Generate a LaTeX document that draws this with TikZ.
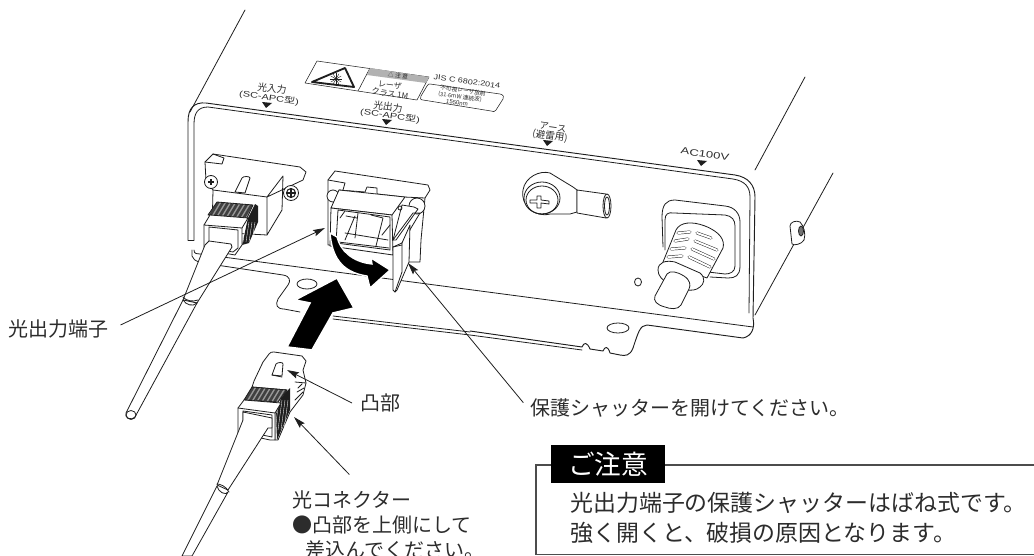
\documentclass[tikz,border=0pt]{standalone}
\usepackage{fontspec}
\usetikzlibrary{arrows.meta}
\newfontfamily\jp{Noto Sans CJK JP}
\newfontfamily\lat{Liberation Sans}
\definecolor{ink}{HTML}{1E1E1E}
\definecolor{txt}{HTML}{2C2C2C}
\tikzset{
 ln/.style={draw=ink,line width=0.6pt,line join=round,line cap=round},
 wf/.style={ln,fill=white},
 leader/.style={draw=ink,line width=0.6pt,-{Stealth[length=9pt,width=5pt,inset=1.5pt]}},
 lab/.style={font=\jp\fontsize{15pt}{15pt}\selectfont,text=txt,inner sep=0pt,anchor=west},
 note/.style={font=\jp\fontsize{17.2pt}{17.2pt}\selectfont,text=txt,inner sep=0pt,anchor=west},
 tiny/.style={font=\jp\fontsize{6.5pt}{6.5pt}\selectfont,text=txt,inner sep=0pt,rotate=-8},
 tri/.style={fill=ink,draw=none},
 bk/.style={fill=black,draw=white,line width=1.2pt,line join=miter},
}
\begin{document}
\begin{tikzpicture}[x=0.75pt,y=-0.75pt]
\useasboundingbox (0,0) rectangle (1034,556);
\clip (0,0) rectangle (1034,556);
% enclosure outlines
\draw[ln] (245,10) -- (190,112);
\draw[ln] (755,170) -- (805,77);
\draw[ln] (755,315) -- (833,173);
% panel
\draw[wf,fill=none,line width=0.7pt] (188,240) -- (188,122) .. controls (188,108) and (194,102) .. (206,103) -- (735,175) .. controls (748,177) and (755,185) .. (755,197) -- (753,318) .. controls (755,328) and (752,336) .. (743,338) -- (647,325) .. controls (640,325) and (638,333) .. (633,348) .. controls (630,356) and (625,356) .. (620,355) -- (610,353) .. controls (608,346) and (605,346) .. (603,351) -- (590,349) .. controls (587,342) and (584,342) .. (582,347) -- (470,331);
\draw[ln,fill=none] (194,240) -- (194,124) .. controls (194,113) and (198,107) .. (208,107) -- (733,179) .. controls (745,181) and (750,187) .. (750,197) -- (749,313);
\draw[ln] (188,240) -- (194,240);
\draw[ln] (194,250) .. controls (194,254) and (197,254) .. (200,254) -- (753,327);
\draw[ln] (192,250) -- (192,256) .. controls (194,262) and (200,263) .. (223,266) -- (283,275) .. controls (290,276) and (291,281) .. (288,285) -- (278,299) .. controls (275,305) and (277,309) .. (284,309) -- (300,312);
\draw[ln] (333,316) -- (470,332);
\draw[ln] (333,319) -- (470,335) -- (582,350);
\draw[ln] (307,284) circle [x radius=10,y radius=5];
\draw[ln] (618,328) circle [x radius=11,y radius=5];
\draw[ln] (638,282) circle [x radius=3.5,y radius=4];
% right screw
\draw[wf] (790,226) .. controls (790,222) and (796,220) .. (800,222) .. controls (804,226) and (806,234) .. (804,240) .. controls (802,244) and (794,246) .. (792,244) -- cycle;
\draw[ln,fill=black!55] (801,231) circle [x radius=2.5,y radius=5];
% laser label
\draw[ln,line width=0.4pt] (317,61) -- (429,77) -- (417,100) -- (305,83) -- cycle;
\draw[ln,line width=0.4pt] (370,68) -- (358,91);
\fill[black!30] (370,68) -- (429,77) -- (426,83) -- (367,75) -- cycle;
\draw[draw=ink,line width=1.4pt,line join=round] (345,68) -- (354,87) -- (312,82) -- cycle;
\foreach \a in {0,30,...,330} \draw[ink,line width=0.3pt] (336,79) -- ++(\a:6);
\fill[ink] (336,79) circle (1.8);
\node[tiny] (warn) at (398,76) {\fontsize{4.4pt}{5pt}\selectfont △ 注 意};
\node[tiny] (cls1) at (390,85.5) {\fontsize{6pt}{7pt}\selectfont レーザ};
\node[tiny] (cls2) at (390,93.5) {\fontsize{6pt}{7pt}\selectfont クラス 1M};
\node[tiny] (jis) at (467,81.5) {\lat\fontsize{5.4pt}{6pt}\selectfont\scalebox{1.25}[1]{JIS C 6802:2014}};
\draw[ln,line width=0.4pt] (430,84) -- (500,94) .. controls (504,95) and (504,97) .. (503,99) -- (496,110) .. controls (495,112) and (493,112) .. (491,111) -- (423,100) .. controls (420,100) and (420,98) .. (421,96) -- (427,86) .. controls (428,84) and (429,84) .. (430,84) -- cycle;
\node[tiny] (w1) at (463,90.5) {\fontsize{4.3pt}{5pt}\selectfont 不可視レーザ放射};
\node[tiny] (w2) at (460,97) {\fontsize{4.3pt}{5pt}\selectfont (31.6mW 連続波)};
\node[tiny] (w3) at (457,103) {\lat\fontsize{4.5pt}{5pt}\selectfont 1550nm};
% top labels
\node[tiny] (in1) at (272,88.5) {\fontsize{7.3pt}{8pt}\selectfont 光入力};
\node[tiny] (in2) at (269,98) {\lat\fontsize{6pt}{7pt}\selectfont\scalebox{1.38}[1]{(SC-APC{\jp 型})}};
\fill[tri] (262,102) -- (272,103) -- (266,108) -- cycle;
\node[tiny] (ou1) at (388,107) {\fontsize{7.3pt}{8pt}\selectfont 光出力};
\node[tiny] (ou2) at (390,116) {\lat\fontsize{6pt}{7pt}\selectfont\scalebox{1.38}[1]{(SC-APC{\jp 型})}};
\fill[tri] (382,119) -- (392,120) -- (386,125) -- cycle;
\node[tiny] (ea1) at (553,127.5) {\fontsize{7pt}{8pt}\selectfont アース};
\node[tiny] (ea2) at (550,136) {\fontsize{7.2pt}{8pt}\selectfont (避雷用)};
\fill[tri] (543,140) -- (553,141) -- (547,146) -- cycle;
\node[tiny] (ac) at (705,154) {\lat\fontsize{7pt}{8pt}\selectfont\scalebox{1.4}[1]{AC100V}};
\fill[tri] (697,160) -- (707,161) -- (701,166) -- cycle;
% left connector plate
\draw[wf] (205,162) -- (213,154) -- (300,167) -- (306,172) -- (303,180) -- (267,197) -- (267,235) -- (282,210) -- (283,176) -- (267,197) -- (213,190) -- (206,181) -- cycle;
\draw[ln] (213,154) -- (224,158) -- (222,164) -- (205,162);
\draw[ln] (213,190) -- (212,232) -- (267,235);
\draw[wf] (235,192) -- (242,178) .. controls (243,176) and (250,176) .. (250,178) -- (245,193) -- cycle;
\draw[wf] (211,182) circle (6.5); \draw[ink,line width=1.2pt] (208,182) -- (214,182) (211,179) -- (211,185);
\draw[wf] (291,193) circle (7.5); \draw[ink,line width=0.8pt] (291,193) circle (4.5); \draw[ink,line width=1.4pt] (287,193) -- (295,193) (291,189) -- (291,197);
% left connector body
\fill[ink] (248,218) -- (255,204) -- (258,206) -- (258,222) -- (249,243) -- (242,245) -- cycle;
\foreach \x in {246,249,252,255} \draw[white,line width=0.25pt] (\x,222) -- (\x-3,242);
\begin{scope}
\clip (217,202) -- (253,205) -- (247,218) -- (208,215) -- cycle;
\fill[black!75] (205,200) rectangle (256,220);
\foreach \x in {205,210,...,262} \draw[black!40,line width=1pt] (\x,220) -- (\x+12,200);
\end{scope}
\draw[ln] (217,202) -- (253,205) -- (247,218) -- (208,215) -- cycle;
\draw[wf] (204,225) -- (210,215) -- (248,218) -- (242,228) -- (242,245) -- (235,255) -- (207,250) -- (204,247) -- cycle;
\draw[wf] (209,227) -- (238,230) -- (238,248) -- (233,252) -- (209,248) -- cycle;
\draw[ln] (204,225) -- (242,228);
% left boot and cable
\draw[wf] (205,245) -- (183,300) -- (197,303) -- (232,247) -- (231,244) -- (209,241) -- cycle;
\draw[wf] (183,300) -- (126,413) .. controls (124,418) and (132,421) .. (135,417) -- (197,303) -- cycle;
\draw[ln] (183,300) .. controls (186,305) and (193,307) .. (197,303);
\draw[ln] (183,297) .. controls (186,301) and (193,302) .. (198,300);
\draw[ln] (131,415) circle [x radius=5,y radius=4.5];
% centre port
\draw[wf] (328,180) -- (335,171) -- (428,185) -- (430,190) -- (425,198) -- (421,240) -- (420,262) -- (409,262) -- (393,250) -- (328,245) -- cycle;
\draw[ln] (328,180) -- (345,183) -- (343,190);
\draw[ln] (339,190) -- (365,192) -- (367,187) -- (377,188) -- (377,194) -- (404,197) -- (425,198);
\draw[wf] (333,196) circle (6);
\draw[wf] (417,206) circle (8);
\draw[wf] (331,208) -- (339,190) -- (405,197) -- (392,215) -- cycle;
\draw[wf] (331,208) -- (392,215) -- (393,255) -- (330,246) -- cycle;
\draw[wf] (338,210) -- (390,217) -- (390,250) -- (336,243) -- cycle;
\draw[ln] (340,218) -- (345,211) (345,240) -- (355,216) (358,213) -- (355,238) (371,215) -- (383,218) -- (376,246) (382,235) -- (390,225) (345,233) -- (388,240);
\draw[ln] (346,216) -- (357,218);
\draw[ln] (338,242) -- (389,248);
\draw[wf] (402,205) -- (414,207) -- (418,209) -- (396,240) -- (393,240) -- cycle;
\draw[ln] (393,240) -- (413,213) -- (420,213) -- (402,243);
\draw[wf] (402,243) -- (410,225) -- (409,262) -- (397,290) -- (395,292) -- (393,290) -- (393,247) -- cycle;
\draw[ln] (402,243) -- (402,272) -- (395,292);
\draw[ln] (393,247) -- (402,245);
\draw[ln] (400,208) circle (2);
% curved arrow
\draw[fill=black,draw=white,line width=1pt] (330,233) .. controls (332,255) and (340,272) .. (367,276) -- (370,288) -- (390,270) -- (371,258) -- (372,264) .. controls (352,262) and (340,250) .. (337,237) -- cycle;
% big arrow
\draw[bk] (287,347) -- (312,350) -- (333,313) -- (354,308) -- (337,278) -- (295,300) -- (310,303) -- cycle;
% earth terminal
\draw[wf] (523,190) .. controls (525,177) and (540,170) .. (550,173) -- (573,187) -- (577,190) -- (577,212) -- (570,214) -- (550,214) .. controls (535,218) and (520,205) .. (523,190) -- cycle;
\draw[wf] (577,190) -- (606,194) -- (606,218) -- (577,213) -- cycle;
\draw[wf] (607,206) circle [x radius=4,y radius=12];
\draw[ln] (607,206) circle [x radius=2.5,y radius=9];
\draw[wf] (542,198) circle [x radius=18,y radius=16];
\draw[ln] (542,200) circle [x radius=16,y radius=14];
\draw[ln] (534,200) -- (537,200) -- (537,196) -- (541,196) -- (541,200) -- (549,201) -- (549,204) -- (541,203) -- (541,208) -- (537,208) -- (537,203) -- (530,203) -- (530,200) -- cycle;
% power cord bushing
\draw[wf] (663,247) -- (662,217) .. controls (662,205) and (666,200) .. (675,200) -- (725,206) .. controls (735,207) and (740,214) .. (740,222) -- (740,266) .. controls (740,276) and (735,278) .. (728,278) -- (710,277);
\draw[ln] (665,250) -- (665,220) .. controls (665,214) and (668,212) .. (674,213) -- (725,215) .. controls (732,216) and (735,220) .. (735,226) -- (735,266) .. controls (735,272) and (730,274) .. (725,274) -- (708,272);
\draw[wf] (663,262) -- (676,230) .. controls (680,222) and (692,221) .. (705,226) .. controls (720,232) and (725,240) .. (723,248) -- (707,278) -- cycle;
\foreach \a/\b/\c/\d in {678/233/690/232, 675/241/688/239, 671/249/685/248, 668/257/682/256, 697/233/711/238, 695/241/717/250, 692/249/714/259, 689/257/710/267}{
 \draw[ink,line width=2.2pt,line cap=round] (\a,\b) -- (\c,\d);
 \draw[white,line width=1.5pt,line cap=round] (\a,\b) -- (\c,\d);
}
\draw[wf] (658,270) .. controls (658,262) and (666,260) .. (675,262) -- (700,273) .. controls (706,278) and (704,284) .. (700,287) .. controls (692,294) and (680,288) .. (670,284) .. controls (662,280) and (658,276) .. (658,270) -- cycle;
\draw[wf] (655,296) -- (667,274) .. controls (670,270) and (678,272) .. (684,276) .. controls (690,280) and (691,285) .. (689,289) -- (681,305) .. controls (678,310) and (670,309) .. (665,307) .. controls (657,305) and (653,301) .. (655,296) -- cycle;
% lower connector
\draw[wf] (263,362) -- (269,354) .. controls (270,352) and (272,352) .. (274,352) -- (302,356) -- (306,361) -- (303,370) -- (306,383) -- (303,395) -- (290,412) -- (278,440) -- (275,440) -- (275,413) -- (287,390) -- (252,387) -- (254,381) -- cycle;
\draw[wf] (272,375) -- (276,364) .. controls (278,362) and (283,362) .. (283,364) -- (282,376) -- cycle;
\draw[ln] (272,375) -- (282,377);
\draw[ln] (295,382) -- (306,383) (298,388) -- (302,384) (297,392) -- (304,388) (295,400) -- (303,392);
\fill[ink] (281,398) -- (290,388) -- (290,410) -- (277,440) -- (276,414) -- cycle;
\foreach \x in {279,282,285,288} \draw[white,line width=0.25pt] (\x,400) -- (\x-4,430);
\begin{scope}
\clip (252,387) -- (287,390) -- (278,402) -- (244,400) -- cycle;
\fill[black!75] (240,385) rectangle (290,405);
\foreach \x in {235,240,...,290} \draw[black!40,line width=1pt] (\x,405) -- (\x+12,385);
\end{scope}
\draw[ln] (252,387) -- (287,390) -- (278,402) -- (244,400) -- cycle;
\draw[wf] (238,408) -- (244,400) -- (281,403) -- (275,413) -- (275,440) -- (270,440) -- (238,433) -- cycle;
\draw[wf] (243,411) -- (272,415) -- (272,437) -- (243,431) -- cycle;
\draw[ln] (238,408) -- (275,413);
\draw[wf] (243,420) -- (217,485) -- (228,490) -- (268,428) -- (272,428) -- (272,418) -- (243,412) -- cycle;
\draw[wf] (217,486) -- (182,556) -- (192,556) -- (228,492) .. controls (226,496) and (218,492) .. (217,486) -- cycle;
\draw[ln] (217,484) .. controls (220,484) and (226,486) .. (229,492);
% labels and leaders
\node[lab] (lterm) at (8,329) {光出力端子};
\node[lab] (lbump) at (360,403) {凸部};
\node[lab] (lshut) at (530,408) {保護シャッターを開けてください。};
\node[lab] (lconn) at (292,500) {光コネクター};
\node[lab] (lcon2) at (292,525) {●凸部を上側にして};
\node[lab] (lcon3) at (305,550) {差込んでください。};
\coordinate (tterm) at (325,228);
\coordinate (tbump) at (287,370);
\coordinate (tconn) at (294,417);
\coordinate (tshut) at (408,263);
\draw[leader] ([xshift=9pt,yshift=3pt]lterm.east) -- (tterm);
\draw[leader] ([xshift=-6pt]lbump.west) -- (tbump);
\draw[leader] ([xshift=-5pt,yshift=4pt]lshut.west) -- (tshut);
\draw[leader] ([xshift=43pt,yshift=12pt]lconn.north west) -- (tconn);
% caution box
\draw[draw=black!70,line width=0.9pt] (1034,465) -- (536,465) -- (536,554.5) -- (1034,554.5);
\node[fill=black,minimum width=85.5pt,minimum height=28.5pt,inner sep=0pt,anchor=north west,text=white,font=\jp\fontsize{20pt}{20pt}\selectfont] (cap) at (551,445) {ご注意};
\node[note] (n1) at (570,503) {光出力端子の保護シャッターはばね式です。};
\node[note] (n2) at (570,533) {強く開くと、破損の原因となります。};
\end{tikzpicture}
\end{document}
